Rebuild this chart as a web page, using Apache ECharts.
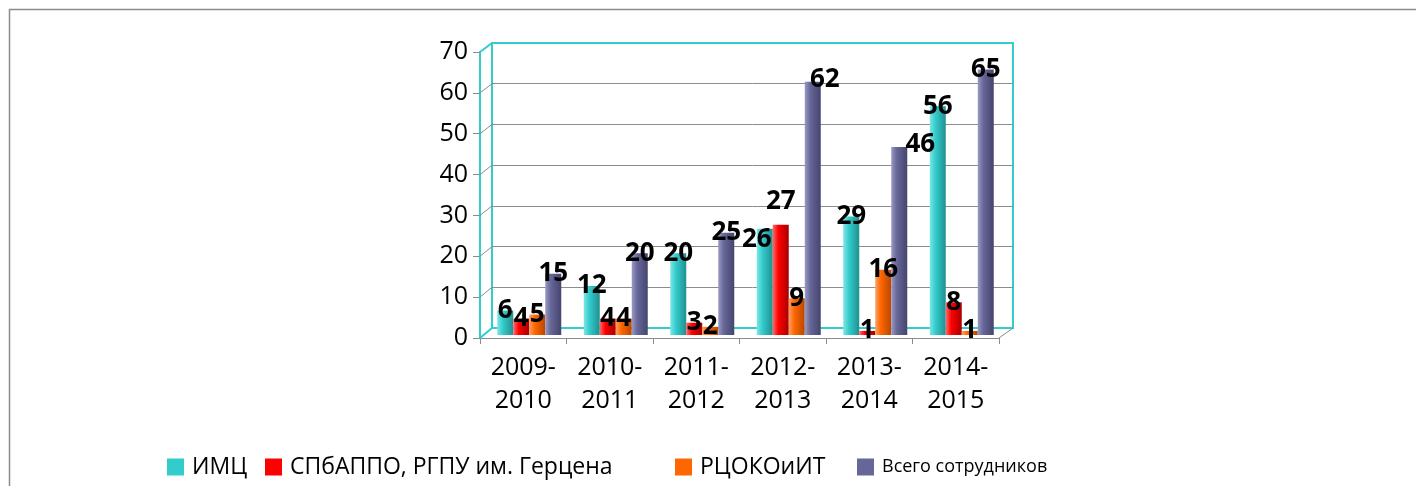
<!DOCTYPE html>
<html><head><meta charset="utf-8">
<script src="https://cdn.jsdelivr.net/npm/echarts@6/dist/echarts.min.js"></script>
<style>html,body{margin:0;padding:0;background:#fff}#c{width:1416px;height:486px}</style>
</head><body><div id="c"></div>
<script>
// ---- data ----
const categories = ['2009-2010','2010-2011','2011-2012','2012-2013','2013-2014','2014-2015'];
const seriesNames = ['ИМЦ','СПбАППО, РГПУ им. Герцена','РЦОКОиИТ','Всего сотрудников'];
const imc     = [6, 12, 20, 26, 29, 56];
const spbappo = [4, 4, 3, 27, 1, 8];
const rcoko   = [5, 4, 2, 9, 16, 1];
const total   = [15, 20, 25, 62, 46, 65];
const yTicks  = [0, 10, 20, 30, 40, 50, 60, 70];

// ---- layout / style ----
const FONT = 'Open Sans';
const CYAN = '#33CCCC';
const GRAY = '#8c8c8c';
const front = {left: 480, top: 52, width: 519, height: 286};
const back  = {left: 492, top: 43, width: 521, height: 285};
const mid   = {left: 486, top: 49, width: 519, height: 286};
const colors = ['#33CCCC', '#FF0000', '#FF6600', '#666699'];
const shades = [
  ['#7fe6e6', '#33CCCC', '#218f8f'],
  ['#ff6a6a', '#ff0000', '#a80000'],
  ['#ffa060', '#ff6600', '#b84700'],
  ['#9a9ac2', '#666699', '#45456e']
];
const labelNudge = {'0-3': [-8, 11], '1-3': [0, -23], '3-3': [12, -2], '3-4': [21, -2]};

const yMin = yTicks[0], yMax = yTicks[yTicks.length - 1], yStep = yTicks[1] - yTicks[0];
const allValues = [imc, spbappo, rcoko, total];

function cyl(s) {
  return {type: 'linear', x: 0, y: 0, x2: 1, y2: 0,
    colorStops: [{offset: 0, color: s[0]}, {offset: 0.35, color: s[1]}, {offset: 1, color: s[2]}]};
}

const grids = [front, back, mid].map((g, i) => Object.assign({containLabel: false}, g,
  i === 1 ? {show: true, borderColor: CYAN, borderWidth: 2, backgroundColor: 'transparent'} : {}));

const xAxes = [
  {gridIndex: 0, type: 'category', data: categories,
   axisLine: {lineStyle: {color: GRAY, width: 1}},
   axisTick: {show: true, length: 6, lineStyle: {color: GRAY}},
   axisLabel: {color: '#000', fontFamily: FONT, fontSize: 25, lineHeight: 33, margin: 13,
     formatter: v => v.replace('-', '-\n')}},
  {gridIndex: 1, type: 'category', data: categories, show: false},
  {gridIndex: 2, type: 'category', data: categories, show: false}
];
const yAxes = [
  {gridIndex: 0, type: 'value', min: yMin, max: yMax, interval: yStep,
   axisLine: {show: true, lineStyle: {color: CYAN, width: 2}},
   axisTick: {show: true, length: 7, lineStyle: {color: GRAY}},
   splitLine: {show: false},
   axisLabel: {color: '#000', fontFamily: FONT, fontSize: 25, margin: 12}},
  {gridIndex: 1, type: 'value', min: yMin, max: yMax, interval: yStep,
   axisLine: {show: false}, axisTick: {show: false}, axisLabel: {show: false},
   splitLine: {show: true, showMinLine: false, showMaxLine: false, lineStyle: {color: GRAY, width: 1}}},
  {gridIndex: 2, type: 'value', min: yMin, max: yMax, interval: yStep, show: false,
   splitLine: {show: false}}
];

const series = allValues.map((vals, si) => ({
  type: 'bar', name: seriesNames[si], xAxisIndex: 2, yAxisIndex: 2,
  barWidth: 16, barGap: '0%',
  itemStyle: {color: cyl(shades[si])},
  label: {show: true, position: ['50%', 0], align: 'center', verticalAlign: 'middle',
    color: '#000', fontFamily: FONT, fontWeight: 'bold', fontSize: 26},
  data: vals.map((v, i) => {
    const n = labelNudge[si + '-' + i];
    return n ? {value: v, label: {offset: n}} : v;
  })
}));

const legendLefts = [167, 265, 675, 857];
const legendSizes = [23, 23, 23, 18];
const legends = seriesNames.map((nm, i) => ({
  left: legendLefts[i], top: 455, padding: 0, orient: 'horizontal',
  selectedMode: false, itemWidth: 17, itemHeight: 17, icon: 'rect',
  data: [{name: nm, itemStyle: {color: colors[i]}}],
  textStyle: {color: '#000', fontFamily: FONT, fontSize: legendSizes[i], lineHeight: 24, padding: [0, 0, 0, 3]}
}));

const chart = echarts.init(document.getElementById('c'), null, {renderer: 'canvas'});
chart.setOption({
  animation: false,
  backgroundColor: '#fff',
  grid: grids, xAxis: xAxes, yAxis: yAxes, series: series, legend: legends
});

// 3D box connectors, derived from the axis scales
const g = [{type: 'rect', shape: {x: 9.5, y: 9.5, width: 1500, height: 600},
  style: {fill: null, stroke: GRAY, lineWidth: 1.5}, silent: true, z: 0}];
yTicks.forEach(v => {
  const yf = chart.convertToPixel({yAxisIndex: 0}, v);
  const yb = chart.convertToPixel({yAxisIndex: 1}, v);
  const isEdge = (v === yMin || v === yMax);
  g.push({type: 'line', silent: true, z: 1,
    shape: {x1: front.left, y1: yf, x2: back.left, y2: yb},
    style: {stroke: isEdge ? CYAN : GRAY, lineWidth: isEdge ? 2 : 1}});
});
const yf0 = chart.convertToPixel({yAxisIndex: 0}, yMin);
const yb0 = chart.convertToPixel({yAxisIndex: 1}, yMin);
g.push({type: 'line', silent: true, z: 1,
  shape: {x1: front.left + front.width, y1: yf0, x2: back.left + back.width, y2: yb0},
  style: {stroke: GRAY, lineWidth: 1}});
chart.setOption({graphic: g});
</script>
</body></html>
